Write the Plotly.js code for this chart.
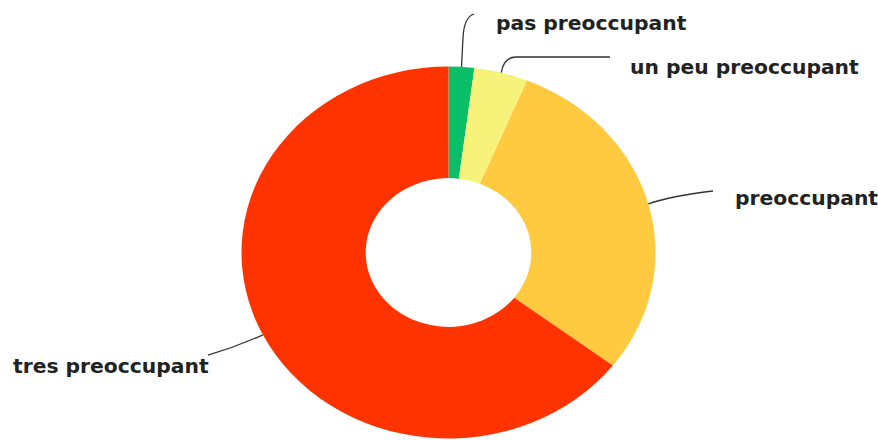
<!DOCTYPE html>
<html>
<head>
<meta charset="utf-8">
<script src="https://cdn.plot.ly/plotly-3.0.1.min.js"></script>
<style>html,body{margin:0;padding:0;background:#fff}#chart{width:878px;height:440px}</style>
</head>
<body>
<div id="chart"></div>
<script>
// ---- data ----
const labels = ['pas preoccupant', 'un peu preoccupant', 'preoccupant', 'tres preoccupant'];
const values = [2.0, 4.2, 29.2, 64.6];
const colors = ['#0bbf69', '#f7f27a', '#ffc940', '#ff3300'];

// ---- geometry (pixels) ----
const W = 878, H = 440;
const CX = 448.5, CY = 252.5, RY = 186, RX = 207;
const SX = RX / RY;
const px = x => x / W;
const py = y => 1 - y / H;

// label placement (text start x, centre y) and leader line elbows
const labelPos = [
  {x: 494, y: 23, path: (a) => `M${px(a[0])},${py(a[1])} L${px(463)},${py(38)} Q${px(464)},${py(17)} ${px(474)},${py(14)}`},
  {x: 628, y: 67, path: (a) => `M${px(a[0])},${py(a[1])} Q${px(504)},${py(57)} ${px(516)},${py(57)} L${px(610)},${py(57)}`},
  {x: 733, y: 198, path: (a) => `M${px(a[0])},${py(a[1])} Q${px(670)},${py(196)} ${px(713)},${py(191)}`},
  {x: 11, y: 366, path: (a) => `M${px(a[0])},${py(a[1])} Q${px(236)},${py(347)} ${px(208)},${py(355)}`}
];

// anchor points on the outer edge at each slice's mid angle
const total = values.reduce((s, v) => s + v, 0);
let cum = 0;
const anchors = values.map(v => {
  const mid = (cum + v / 2) / total * 2 * Math.PI;
  cum += v;
  return [CX + RX * Math.sin(mid), CY - RY * Math.cos(mid)];
});

const trace = {
  type: 'pie',
  labels: labels,
  values: values,
  marker: {colors: colors, line: {width: 0}},
  hole: 0.4,
  sort: false,
  direction: 'clockwise',
  rotation: 0,
  textinfo: 'none',
  hoverinfo: 'label+percent',
  showlegend: false,
  domain: {x: [px(CX - RY), px(CX + RY)], y: [1 - (CY + RY) / H, 1 - (CY - RY) / H]}
};

const annotations = labels.map((t, i) => ({
  text: t, xref: 'paper', yref: 'paper',
  x: px(labelPos[i].x), y: py(labelPos[i].y),
  xanchor: 'left', yanchor: 'middle', showarrow: false,
  font: {family: 'DejaVu Sans, sans-serif', size: 20.3, color: '#222', weight: 'bold'}
}));

const shapes = labels.map((t, i) => ({
  type: 'path', xref: 'paper', yref: 'paper',
  path: labelPos[i].path(anchors[i]),
  line: {color: '#333', width: 1.3}
}));

const layout = {
  width: W, height: H,
  margin: {l: 0, r: 0, t: 0, b: 0},
  paper_bgcolor: '#fff',
  annotations: annotations,
  shapes: shapes,
  showlegend: false
};

Plotly.newPlot('chart', [trace], layout, {displayModeBar: false, staticPlot: true}).then(gd => {
  // stretch the donut horizontally into the reference's slight ellipse
  gd.querySelectorAll('.pielayer path.surface').forEach(p => {
    p.setAttribute('transform', `translate(${CX},0) scale(${SX},1) translate(${-CX},0)`);
  });
});
</script>
</body>
</html>
